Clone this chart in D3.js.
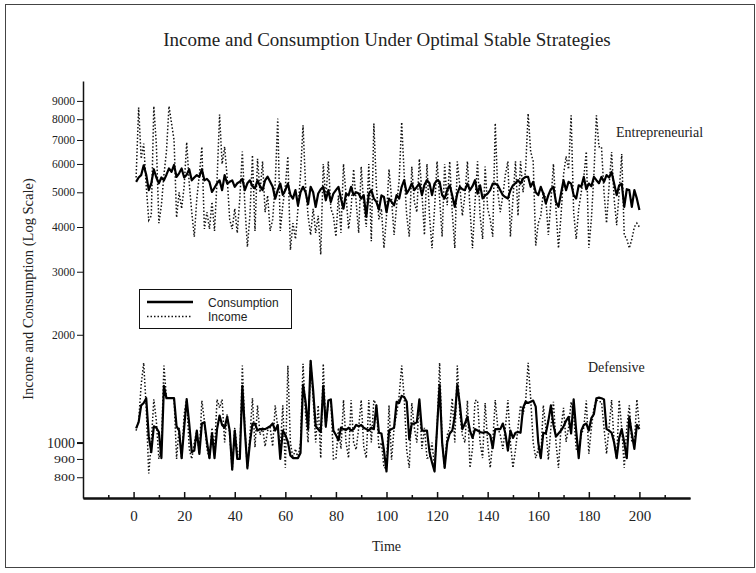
<!DOCTYPE html>
<html>
<head>
<meta charset="utf-8">
<script src="https://cdn.jsdelivr.net/npm/d3@7"></script>
<style>
  body { margin: 0; background: #fff; }
  svg text { fill: #222; }
  .serif { font-family: "Liberation Serif", "Times New Roman", serif; }
  .sans { font-family: "Liberation Sans", Arial, sans-serif; }
</style>
</head>
<body>
<svg width="756" height="573"></svg>
<script>
// time index 1..200
var time = d3.range(1, 201);

// Entrepreneurial strategy
var entConsumption = [
  5346,5500,5585,5950,5600,5070,5300,5800,5500,5300,
  5500,5400,5600,5830,5700,5960,5520,5650,5830,5500,
  5600,5800,5400,5500,5585,5520,5800,5400,5450,5346,
  5010,5150,5300,5400,5070,5585,5290,5350,5400,5180,
  5300,5350,5450,5070,5300,5400,5200,5130,5400,5200,
  5070,5400,5530,5350,5180,4800,5070,5290,4920,5070,
  5290,4920,4800,5070,4600,5000,5180,5000,4630,5180,
  5000,4550,4960,5100,5180,4750,5070,4700,4960,5070,
  5180,4800,4500,4960,4900,5180,4910,5000,4960,4800,
  4910,4270,4950,5070,4800,4700,4470,4900,4850,4400,
  4800,4700,4600,4910,4800,5180,5405,4960,5100,5290,
  5070,5180,5290,4910,5250,5405,5300,4910,5290,5405,
  5350,4910,4805,5070,5230,4900,4555,4960,5180,5100,
  5070,5290,5070,5200,5405,4960,5230,4805,4900,4960,
  5070,5290,5290,5230,5070,4910,4850,4805,5070,5230,
  5300,5405,5290,5460,5520,5520,5180,5350,5000,4910,
  5180,4960,4655,4910,5100,5180,4700,4555,4960,5405,
  5070,5350,5290,4910,4805,5230,5180,5520,5100,5290,
  5200,5520,5405,5300,5520,5350,5585,5500,5700,5290,
  4910,5230,5290,4555,5100,5070,4555,5070,4800,4460
];
var entIncome = [
  5500,8630,6200,6840,5200,4180,4300,8700,6800,4100,
  4600,5600,6500,8700,7800,7000,4250,5000,4500,5200,
  6900,5300,4400,3755,4800,5600,6700,3950,4400,3950,
  4700,3900,5400,8250,6000,6700,5500,4200,3950,4500,
  3850,4800,6500,4600,3520,4300,6350,3900,6200,5000,
  6100,4400,4900,3900,4200,5300,8030,3900,4600,5200,
  6300,3450,4100,3700,4500,5600,7700,5200,4300,3800,
  4500,3850,4300,3350,6000,4800,6100,4500,4300,3760,
  4900,3850,6000,4900,3950,4500,5800,4700,3850,5900,
  4600,4000,6000,3650,7780,5200,4200,4500,3490,4300,
  5800,4800,3800,4600,5400,7850,5600,4300,3760,5900,
  4700,4400,6200,5000,3800,6000,4300,3490,4500,6100,
  4800,3760,6000,4600,6100,4400,3490,6100,5200,4300,
  4900,6100,4500,3490,4700,6100,4300,3700,5900,4500,
  4200,3760,7800,5000,4400,4900,5600,6100,3760,4800,
  6100,4300,6100,5000,5800,8300,6500,6100,3550,4100,
  4300,5000,4800,3800,4700,6000,4500,3490,4300,5600,
  6300,5800,8200,4400,3700,4500,5000,5500,6500,3500,
  4200,5600,8200,6700,6700,5000,4100,5200,6480,4800,
  4050,5000,6400,3800,3700,3490,3700,4000,4100,4000
];

// Defensive strategy
var defConsumption = [
  1095,1140,1270,1290,1330,1040,940,1110,1100,1070,
  905,1440,1330,1330,1330,1330,1110,1080,905,1100,
  1320,1130,940,950,1080,930,1130,1140,1005,905,
  1060,905,1090,1190,1120,1100,1180,1080,840,1080,
  900,900,1440,1080,850,1000,1130,1130,1080,1090,
  1090,1090,1100,1110,1130,1080,1120,900,1080,1050,
  1005,920,905,905,905,935,1450,1300,1090,1690,
  1400,1110,1090,1070,1440,1110,1310,1320,1080,1050,
  1015,1100,1090,1085,1100,1080,1090,1120,1110,1120,
  1100,1090,1080,1100,1090,1270,1065,1060,950,830,
  1080,1090,1100,1300,1290,1350,1340,1300,1020,1130,
  1130,1140,1320,1080,1080,1080,940,880,830,1100,
  1450,1000,850,1000,1060,1080,1180,1450,1280,1090,
  1130,1180,1080,1030,1090,1080,1070,1065,1070,1065,
  1050,965,1090,1090,1090,1130,1060,950,1080,1030,
  1065,1070,1065,1250,1300,1290,1300,1310,1260,1000,
  905,1065,1060,1150,1270,1120,1040,1060,1080,1110,
  1150,1180,1060,1320,1080,905,1080,1120,1130,1080,
  1170,1200,1330,1335,1330,1320,1090,1080,1065,1000,
  905,1030,1090,1000,905,1180,1060,960,1120,1090
];
var defIncome = [
  1080,1150,1450,1670,1250,820,1000,1320,1150,900,
  980,1640,1330,1330,1330,1330,900,1100,900,1200,
  1330,960,900,1000,1080,930,1310,1150,960,900,
  1100,950,1320,1250,1320,1000,1200,1050,840,1100,
  950,920,1640,1100,840,1050,1330,970,1270,1050,
  1100,975,1080,1100,975,1270,1100,960,1270,850,
  1640,1000,905,960,905,1000,1660,1200,1000,1700,
  1330,1000,1270,905,1660,1100,1300,1330,900,900,
  1100,960,1315,1000,905,1315,1000,955,1100,1315,
  975,905,1315,1000,1315,1270,960,1000,850,850,
  1270,895,1100,1200,1350,1640,1330,950,850,1290,
  1100,1000,1310,960,1100,905,905,1000,850,1100,
  1670,1000,850,1050,1100,1330,1000,1640,1200,1050,
  1000,1310,850,960,1310,1310,1000,905,1290,1000,
  850,1000,1315,1100,1050,960,1100,1315,1000,850,
  955,1100,1270,1200,1300,1670,1330,1000,905,960,
  905,1270,1100,895,1100,1300,1000,850,1100,1250,
  1005,1100,1300,1200,960,955,1050,1100,1310,930,
  1100,1250,1315,1300,1300,1100,930,1100,1315,1000,
  900,1315,1100,850,1100,1270,1000,1000,1320,1100
];

var xMajor = [0, 20, 40, 60, 80, 100, 120, 140, 160, 180, 200];
var xMinor = [-10, 10, 30, 50, 70, 90, 110, 130, 150, 170, 190, 210];
var yTicks = [800, 900, 1000, 2000, 3000, 4000, 5000, 6000, 7000, 8000, 9000];

var svg = d3.select('svg');

// outer frame
svg.append('rect')
  .attr('x', 5.5).attr('y', 4.5)
  .attr('width', 749).attr('height', 563)
  .attr('fill', 'none').attr('stroke', '#444').attr('stroke-width', 1);

var x = d3.scaleLinear().domain([-20, 220]).range([83, 690]);
var y = d3.scaleLog().domain([700, 10230]).range([498, 81]);

// x axis: major and minor ticks point up
var gx = svg.append('g').attr('transform', 'translate(0,498)');
gx.call(d3.axisBottom(x).tickValues(xMajor).tickSize(-6).tickSizeOuter(0)
  .tickPadding(12).tickFormat(d3.format('d')));
gx.append('g').call(d3.axisBottom(x).tickValues(xMinor).tickSize(-3)
  .tickSizeOuter(0).tickFormat(''));
gx.selectAll('path.domain').attr('stroke', '#111').attr('stroke-width', 2);
gx.selectAll('.tick line').attr('stroke', '#111').attr('stroke-width', 1.5);
gx.selectAll('.tick text').attr('class', 'serif').style('font-size', '15px').attr('fill', '#222');

// y axis
var gy = svg.append('g').attr('transform', 'translate(83,0)');
gy.call(d3.axisLeft(y).tickValues(yTicks).tickSize(6).tickSizeOuter(0)
  .tickPadding(2).tickFormat(d3.format('d')));
gy.selectAll('path.domain').attr('stroke', '#111').attr('stroke-width', 1.5);
gy.selectAll('.tick line').attr('stroke', '#111')
  .attr('stroke-width', function (d) { return d === 1000 ? 2 : 1; });
gy.selectAll('.tick text').attr('class', 'serif').attr('fill', '#222')
  .style('font-size', function (d) { return d === 1000 ? '14px' : (d < 1000 ? '11px' : '11.5px'); })
  .each(function (d) {
    if (d < 1000) {
      d3.select(this).attr('textLength', 21).attr('lengthAdjust', 'spacingAndGlyphs');
    }
  });
svg.selectAll('.domain').attr('fill', 'none');

// series
var line = d3.line()
  .x(function (d) { return x(d[0]); })
  .y(function (d) { return y(d[1]); });

function pairs(vals) {
  return time.map(function (t, i) { return [t, vals[i]]; });
}

[entIncome, defIncome].forEach(function (s) {
  svg.append('path')
    .datum(pairs(s))
    .attr('d', line)
    .attr('fill', 'none')
    .attr('stroke', '#111')
    .attr('stroke-width', 1.5)
    .attr('stroke-dasharray', '1.5,2');
});
[entConsumption, defConsumption].forEach(function (s) {
  svg.append('path')
    .datum(pairs(s))
    .attr('d', line)
    .attr('fill', 'none')
    .attr('stroke', '#000')
    .attr('stroke-width', 2.2)
    .attr('stroke-linejoin', 'round');
});

// texts
svg.append('text').attr('class', 'serif')
  .attr('x', 387).attr('y', 46).attr('text-anchor', 'middle')
  .style('font-size', '19px')
  .text('Income and Consumption Under Optimal Stable Strategies');

svg.append('text').attr('class', 'serif')
  .attr('transform', 'translate(33,289) rotate(-90)')
  .attr('text-anchor', 'middle')
  .style('font-size', '14.5px')
  .text('Income and Consumption (Log Scale)');

svg.append('text').attr('class', 'serif')
  .attr('x', 386.5).attr('y', 551).attr('text-anchor', 'middle')
  .style('font-size', '14px')
  .text('Time');

svg.append('text').attr('class', 'serif')
  .attr('x', 616).attr('y', 137)
  .style('font-size', '14px')
  .text('Entrepreneurial');

svg.append('text').attr('class', 'serif')
  .attr('x', 588).attr('y', 372)
  .style('font-size', '14px')
  .text('Defensive');

// legend
var lg = svg.append('g');
lg.append('rect')
  .attr('x', 139.5).attr('y', 289.5).attr('width', 152).attr('height', 39)
  .attr('fill', '#fff').attr('stroke', '#111').attr('stroke-width', 1);
lg.append('line')
  .attr('x1', 147).attr('x2', 193).attr('y1', 302).attr('y2', 302)
  .attr('stroke', '#000').attr('stroke-width', 2.6);
lg.append('line')
  .attr('x1', 147).attr('x2', 191).attr('y1', 316.5).attr('y2', 316.5)
  .attr('stroke', '#111').attr('stroke-width', 1.5).attr('stroke-dasharray', '1.5,2');
lg.append('text').attr('class', 'sans')
  .attr('x', 208).attr('y', 306.5).style('font-size', '12px')
  .text('Consumption');
lg.append('text').attr('class', 'sans')
  .attr('x', 208).attr('y', 321).style('font-size', '12px')
  .text('Income');
</script>
</body>
</html>
